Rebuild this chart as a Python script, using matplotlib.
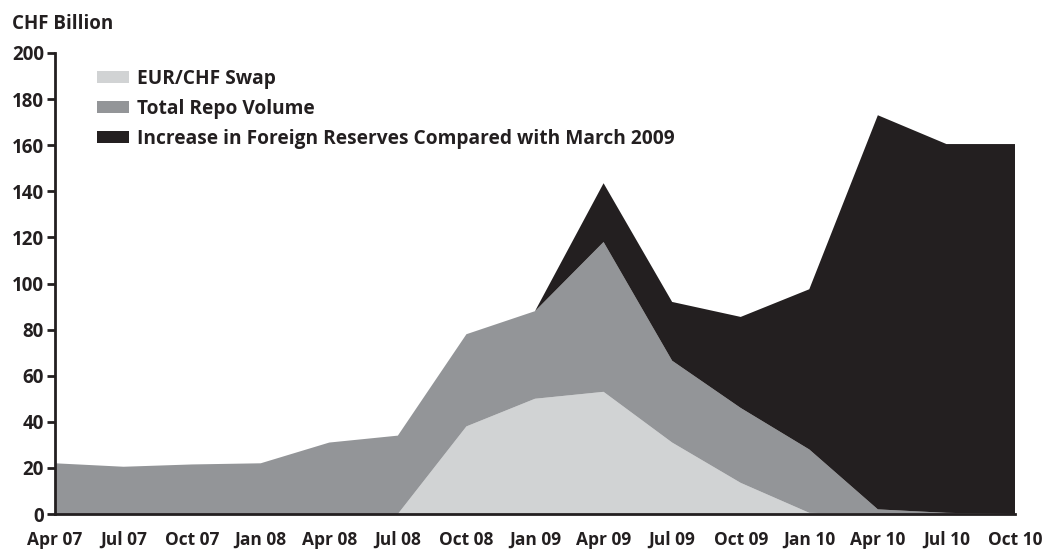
import matplotlib
matplotlib.use('Agg')
import matplotlib.pyplot as plt
import numpy as np

# quarterly points, Apr 07 .. Oct 10
quarters = ['Apr 07', 'Jul 07', 'Oct 07', 'Jan 08', 'Apr 08', 'Jul 08', 'Oct 08', 'Jan 09',
            'Apr 09', 'Jul 09', 'Oct 09', 'Jan 10', 'Apr 10', 'Jul 10', 'Oct 10']

# CHF billion
eurChfSwap = [0, 0, 0, 0, 0, 0, 38, 50, 53, 31, 13.5, 0.5, 0, 0, 0]
repoVolume = [22, 20.5, 21.5, 22, 31, 34, 40, 38, 65, 35.5, 32.5, 27.5, 2, 0.5, 0]
reserveIncrease = [0, 0, 0, 0, 0, 0, 0, 0, 25.5, 25.5, 39.5, 69.5, 171, 160, 160.5]

labels = ['EUR/CHF Swap', 'Total Repo Volume',
          'Increase in Foreign Reserves Compared with March 2009']
colors = ['#d1d3d4', '#939598', '#231f20']

plt.rcParams['font.family'] = ['Open Sans', 'DejaVu Sans']
FW = 'bold'

fig = plt.figure(figsize=(10.44, 5.52), dpi=100)
ax = fig.add_axes([55 / 1044, 1 - 514 / 552, (1015 - 55) / 1044, (514 - 53) / 552])

x = np.arange(len(quarters))
ax.stackplot(x, eurChfSwap, repoVolume, reserveIncrease, colors=colors, labels=labels,
             linewidth=0)

ax.set_xlim(0, len(quarters) - 1)
ax.set_ylim(0, 200)
ax.set_yticks(np.arange(0, 201, 20))
ax.set_xticks(x)
ax.set_xticklabels(quarters)

for side in ['top', 'right']:
    ax.spines[side].set_visible(False)
ax.spines['left'].set_linewidth(2)
ax.spines['bottom'].set_linewidth(2)
ax.spines['left'].set_color('#231f20')
ax.spines['bottom'].set_color('#231f20')
ax.tick_params(axis='y', length=6, width=2, labelsize=13.5, pad=2, colors='#231f20')
ax.tick_params(axis='x', length=0, labelsize=12.5, pad=12, colors='#231f20')
for lbl in ax.get_xticklabels() + ax.get_yticklabels():
    lbl.set_fontweight(FW)

fig.text(12 / 1044, 1 - 24 / 552, 'CHF Billion', fontsize=13.5, fontweight=FW,
         va='center', ha='left', color='#231f20')

leg = fig.legend(loc='upper left', bbox_to_anchor=(97 / 1044, 1 - 69 / 552), frameon=False,
                 fontsize=13.8, handlelength=1.65, handleheight=0.55, handletextpad=0.45,
                 labelspacing=0.52, borderpad=0, borderaxespad=0)
for t in leg.get_texts():
    t.set_fontweight(FW)
    t.set_color('#231f20')

plt.savefig('out.png', dpi=100)
